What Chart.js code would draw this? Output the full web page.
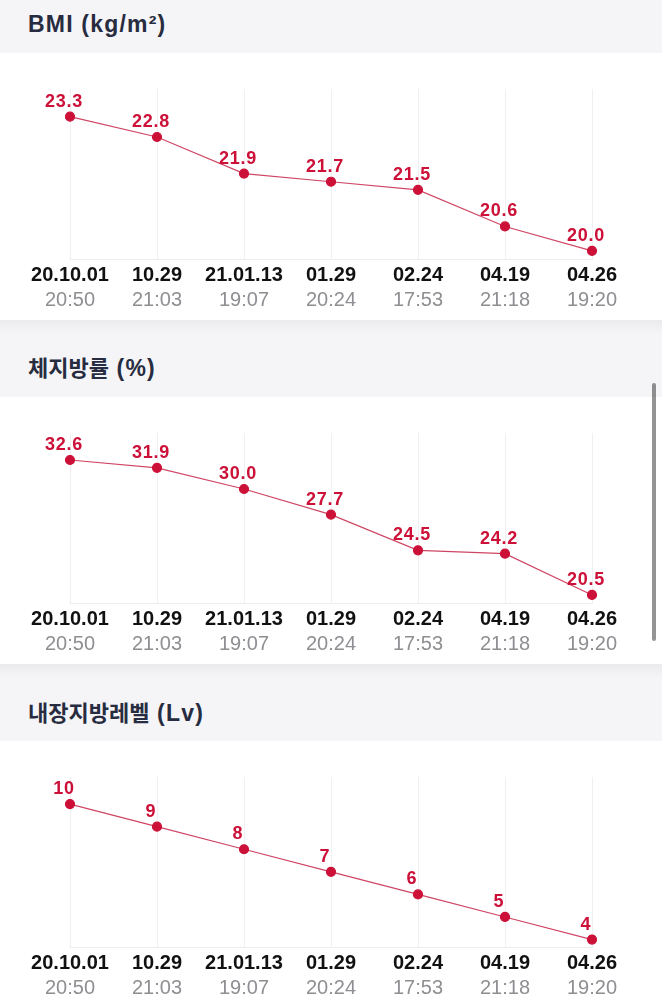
<!DOCTYPE html>
<html>
<head>
<meta charset="utf-8">
<script src="https://cdn.jsdelivr.net/npm/chart.js@4.4.1/dist/chart.umd.min.js"></script>
<style>
  html, body { margin: 0; padding: 0; width: 662px; height: 1000px; overflow: hidden; background: #f5f5f7; }
  .band { position: absolute; left: 0; width: 662px; background: linear-gradient(#ebebee 0px, #f5f5f7 14px, #f5f5f7 100%); }
  .title { position: absolute; left: 28px; font-family: "Liberation Sans", Arial, "Noto Sans CJK KR", sans-serif; font-weight: 700; font-size: 23px; letter-spacing: 1.2px; color: #272c40; white-space: nowrap; line-height: 1; }
  .title .ko { font-family: "Noto Sans CJK KR", sans-serif; font-size: 22px; letter-spacing: 0px; }
  .panel { position: absolute; left: 0; width: 662px; height: 267px; background: #ffffff; }
  .scroll { position: absolute; left: 652px; top: 383px; width: 4px; height: 258px; border-radius: 2px; background: rgba(0,0,0,0.42); }
</style>
</head>
<body>
<div class="band" style="top:-25px;height:78px;"></div>
<div class="title" style="top:13px;">BMI (kg/m²)</div>
<div class="panel" style="top:53px;"><canvas id="c1"></canvas></div>

<div class="band" style="top:320px;height:77px;"></div>
<div class="title" style="top:355px;"><span class="ko">체지방률</span> (%)</div>
<div class="panel" style="top:397px;"><canvas id="c2"></canvas></div>

<div class="band" style="top:664px;height:77px;"></div>
<div class="title" style="top:700px;"><span class="ko">내장지방레벨</span> (Lv)</div>
<div class="panel" style="top:741px;"><canvas id="c3"></canvas></div>

<div class="scroll"></div>

<script>
const dateLabels = ['20.10.01', '10.29', '21.01.13', '01.29', '02.24', '04.19', '04.26'];
const timeLabels = ['20:50', '21:03', '19:07', '20:24', '17:53', '21:18', '19:20'];

const bmiValues = [23.3, 22.8, 21.9, 21.7, 21.5, 20.6, 20.0];
const fatValues = [32.6, 31.9, 30.0, 27.7, 24.5, 24.2, 20.5];
const visceralValues = [10, 9, 8, 7, 6, 5, 4];

const bmiRange = [19.8, 23.98];
const fatRange = [19.78, 35.02];
const visceralRange = [3.67, 11.2];

const RED = '#cc1038';
const LINE = '#cf4664';

Chart.defaults.font.family = '"Liberation Sans", Arial, sans-serif';

const valueLabels = {
  id: 'valueLabels',
  afterDatasetsDraw(chart) {
    const ctx = chart.ctx;
    const ds = chart.data.datasets[0];
    const meta = chart.getDatasetMeta(0);
    const dec = chart.options.plugins.valueLabels.decimals;
    ctx.save();
    ctx.font = 'bold 18px "Liberation Sans", Arial, sans-serif';
    try { ctx.letterSpacing = '0.8px'; } catch (e) {}
    ctx.fillStyle = RED;
    ctx.textAlign = 'center';
    ctx.textBaseline = 'middle';
    meta.data.forEach((pt, i) => {
      ctx.fillText(ds.data[i].toFixed(dec), pt.x - 6, pt.y - 15);
    });
    ctx.restore();
  }
};

function makeChart(id, values, range, decimals) {
  return new Chart(document.getElementById(id), {
    type: 'line',
    data: {
      labels: dateLabels,
      datasets: [{
        data: values,
        borderColor: LINE,
        borderWidth: 1.2,
        pointBackgroundColor: RED,
        pointBorderColor: RED,
        pointRadius: 4.5,
        pointHoverRadius: 4.5,
        tension: 0,
        fill: false,
        clip: 20
      }]
    },
    options: {
      responsive: true,
      maintainAspectRatio: false,
      animation: false,
      events: [],
      layout: { padding: { top: 36, left: 70, right: 70, bottom: 9 } },
      plugins: {
        legend: { display: false },
        tooltip: { enabled: false },
        valueLabels: { decimals: decimals }
      },
      scales: {
        y: { display: false, min: range[0], max: range[1] },
        x: {
          position: 'bottom',
          weight: 0,
          offset: false,
          grid: { display: true, color: '#f0f0f3', lineWidth: 1, drawTicks: false },
          border: { display: true, color: '#ededf0', width: 1 },
          ticks: { padding: 4, maxRotation: 0, autoSkip: false, color: '#111111', font: { size: 20, weight: 'bold' } },
          afterFit(s) { s.height = 27; }
        },
        x2: {
          type: 'category',
          position: 'bottom',
          weight: 1,
          offset: false,
          labels: timeLabels,
          grid: { display: false, drawTicks: false },
          border: { display: false },
          ticks: { padding: 2, maxRotation: 0, autoSkip: false, color: '#8e8e93', font: { size: 20 } },
          afterFit(s) { s.height = 25; }
        }
      }
    },
    plugins: [valueLabels]
  });
}

makeChart('c1', bmiValues, bmiRange, 1);
makeChart('c2', fatValues, fatRange, 1);
makeChart('c3', visceralValues, visceralRange, 0);
</script>
</body>
</html>
